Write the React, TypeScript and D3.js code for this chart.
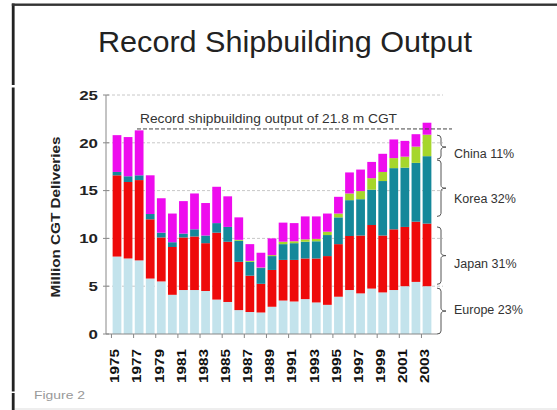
import React from "react";
import * as d3 from "d3";

const years = d3.range(1975, 2004).map(String);
const europe = [8.1, 7.9, 7.7, 5.8, 5.5, 4.1, 4.6, 4.6, 4.5, 3.6, 3.35, 2.5, 2.3, 2.25, 2.85, 3.5, 3.4, 3.65, 3.3, 3.05, 3.9, 4.6, 4.25, 4.75, 4.35, 4.6, 5.0, 5.45, 5.0];
const japan = [8.5, 8.0, 8.4, 6.2, 4.6, 5.0, 5.5, 5.6, 5.0, 7.0, 6.3, 5.05, 3.8, 3.0, 3.85, 4.25, 4.35, 4.25, 4.6, 5.1, 5.5, 5.65, 6.05, 6.65, 5.95, 6.35, 6.2, 6.3, 6.55];
const korea = [0.35, 0.6, 0.5, 0.55, 0.5, 0.5, 0.4, 0.75, 0.8, 1.0, 1.55, 2.2, 1.45, 1.65, 1.45, 1.65, 1.75, 1.75, 1.8, 2.2, 2.8, 3.75, 3.8, 3.7, 5.7, 6.4, 6.2, 6.15, 7.05];
const china = [0, 0, 0, 0, 0, 0, 0, 0, 0, 0, 0, 0.1, 0.1, 0.05, 0.1, 0.25, 0.2, 0.25, 0.25, 0.35, 0.4, 0.7, 0.85, 1.2, 0.95, 1.05, 1.15, 1.7, 2.25];
const others = [3.85, 4.1, 4.7, 4.05, 3.6, 3.0, 3.4, 3.75, 3.4, 3.8, 3.2, 2.35, 1.75, 1.55, 1.75, 2.0, 1.9, 2.4, 2.35, 1.9, 1.75, 2.2, 2.25, 1.7, 1.9, 1.95, 1.65, 1.3, 1.25];

const seriesKeys = ["europe", "japan", "korea", "china", "others"];
const seriesColors = ["#c3e3ec", "#ee0a0a", "#14889a", "#a6d62c", "#ee0cee"];
const yTicks = [0, 5, 10, 15, 20, 25];
const gridValues = [5, 10, 15, 20, 25];
const xLabelYears = years.filter((_, i) => i % 2 === 0);

const recordValue = 21.45;
const recordText = "Record shipbuilding output of 21.8 m CGT";

const bracketNames = ["China 11%", "Korea 32%", "Japan 31%", "Europe 23%"];
const bracketLo = [18.3, 12.3, 5.2, 0];
const bracketHi = [20.8, 18.2, 11.2, 4.8];
const bracketLabelAt = [18.85, 14.2, 7.4, 2.6];

export default function App() {
  const W = 557, H = 410;
  const x = d3.scaleBand<string>().domain(years).range([110.3, 433.7]).padding(0.21);
  const y = d3.scaleLinear().domain([0, 25]).range([334, 95]);

  const table = years.map((yr, i) => ({
    year: yr,
    europe: europe[i],
    japan: japan[i],
    korea: korea[i],
    china: china[i],
    others: others[i],
  }));
  const stacked = d3.stack<any>().keys(seriesKeys)(table);

  const step = x.step();
  const bw = x.bandwidth();

  const bracketPath = (lo: number, hi: number) => {
    const top = y(hi), bot = y(lo), mid = (top + bot) / 2;
    const x0 = 437, x1 = 441, xp = 446;
    return `M${x0},${top} Q${x1},${top} ${x1},${top + 3} L${x1},${mid - 3} Q${x1},${mid} ${xp},${mid} Q${x1},${mid} ${x1},${mid + 3} L${x1},${bot - 3} Q${x1},${bot} ${x0},${bot}`;
  };

  return (
    <div style={{ position: "fixed", left: 0, top: 0 }}>
      <svg width={W} height={H} style={{ display: "block", background: "#fff" }} fontFamily="'Liberation Sans', Arial, sans-serif">
        <rect x={0} y={0} width={W} height={H} fill="#fff" />
        {/* frame */}
        <rect x={11.8} y={3.5} width={2.8} height={H - 3.5} fill="#222" />
        <rect x={11.8} y={3.5} width={W - 11.8} height={2.4} fill="#333" />
        <rect x={0} y={85} width={20} height={2.5} fill="#fff" />
        <line x1={15} x2={W} y1={409} y2={409} stroke="#ddd" strokeWidth={1} />
        <rect x={0} y={391.5} width={36} height={1.5} fill="#fff" />

        {/* title */}
        <text x={98} y={51.5} fontSize={30} fill="#222" textLength={374} lengthAdjust="spacingAndGlyphs">
          Record Shipbuilding Output
        </text>

        {/* gridlines */}
        {gridValues.map((v) => (
          <line key={v} x1={107} x2={443} y1={y(v)} y2={y(v)} stroke="#c8c8c8" strokeWidth={1} strokeDasharray="3,2" />
        ))}

        {/* bars */}
        {stacked.map((s, si) => (
          <g key={s.key} fill={seriesColors[si]}>
            {s.map((d: any, i: number) => {
              const h = y(d[0]) - y(d[1]);
              if (h <= 0) return null;
              return <rect key={i} x={x(years[i])} y={y(d[1])} width={bw} height={h} />;
            })}
          </g>
        ))}

        {/* record line */}
        <line x1={137} x2={452} y1={y(recordValue)} y2={y(recordValue)} stroke="#444" strokeWidth={1} strokeDasharray="4,2" />
        <text x={140} y={122.5} fontSize={13.5} fill="#333" textLength={257} lengthAdjust="spacingAndGlyphs">
          {recordText}
        </text>

        {/* y axis */}
        <line x1={106} x2={106} y1={y(25)} y2={y(0)} stroke="#888" strokeWidth={1} />
        {yTicks.map((t) => (
          <g key={t}>
            <line x1={103} x2={109} y1={y(t)} y2={y(t)} stroke="#888" strokeWidth={1} />
            <text x={98} y={y(t)} dy="0.36em" textAnchor="end" fontSize={13.5} fontWeight="bold" fill="#222"
              textLength={String(t).length * 9.4} lengthAdjust="spacingAndGlyphs">
              {t}
            </text>
          </g>
        ))}
        <text transform={`translate(55,217) rotate(-90)`} textAnchor="middle" dy="0.35em" fontSize={13} fontWeight="bold" fill="#222"
          textLength={161} lengthAdjust="spacingAndGlyphs">
          Million CGT Deliveries
        </text>

        {/* x axis */}
        <line x1={106} x2={437} y1={y(0)} y2={y(0)} stroke="#888" strokeWidth={1} />
        {xLabelYears.map((yr) => {
          const bx = x(yr)! - (step - bw) / 2;
          const cx = x(yr)! + bw / 2 - 2;
          return (
            <g key={yr}>
              <line x1={bx} x2={bx} y1={y(0)} y2={y(0) + 4} stroke="#888" strokeWidth={1} />
              <text transform={`translate(${cx},349) rotate(-90)`} textAnchor="end" dy="0.36em" fontSize={12} fontWeight="bold" fill="#111"
                textLength={34} lengthAdjust="spacingAndGlyphs">
                {yr}
              </text>
            </g>
          );
        })}

        {/* brackets */}
        {bracketNames.map((name, i) => (
          <g key={name}>
            <path d={bracketPath(bracketLo[i], bracketHi[i])} fill="none" stroke="#555" strokeWidth={1} />
            <text x={454} y={y(bracketLabelAt[i])} dy="0.36em" fontSize={12.5} fill="#333">
              {name}
            </text>
          </g>
        ))}

        <text x={34} y={399} fontSize={10.5} fill="#999" textLength={51} lengthAdjust="spacingAndGlyphs">
          Figure 2
        </text>
      </svg>
    </div>
  );
}
